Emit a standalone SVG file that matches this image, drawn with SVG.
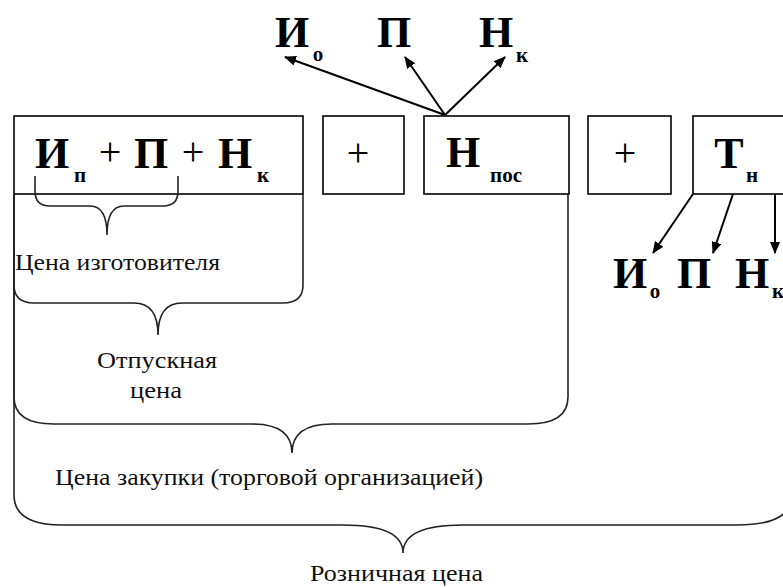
<svg xmlns="http://www.w3.org/2000/svg" width="783" height="588" viewBox="0 0 783 588">
<defs>
<marker id="ah" viewBox="0 0 12 10" refX="11" refY="5" markerWidth="12" markerHeight="10" markerUnits="userSpaceOnUse" orient="auto">
<path d="M0,0 L12,5 L0,10 Z" fill="#000"/>
</marker>
</defs>
<rect width="783" height="588" fill="#fff"/>

<g id="box-producer">
<rect x="14" y="116" width="289" height="78" fill="#fff" stroke="#000" stroke-width="1.6"/>
<text x="52" y="168" font-family="Liberation Serif" font-size="44" font-weight="bold" text-anchor="middle">И</text>
<text x="80" y="182" font-family="Liberation Serif" font-size="21" font-weight="bold" text-anchor="middle">п</text>
<text x="110" y="165" font-family="Liberation Serif" font-size="40" text-anchor="middle">+</text>
<text x="151" y="168" font-family="Liberation Serif" font-size="44" font-weight="bold" text-anchor="middle">П</text>
<text x="193" y="165" font-family="Liberation Serif" font-size="40" text-anchor="middle">+</text>
<text x="235" y="168" font-family="Liberation Serif" font-size="44" font-weight="bold" text-anchor="middle">Н</text>
<text x="263" y="182" font-family="Liberation Serif" font-size="21" font-weight="bold" text-anchor="middle">к</text>
</g>
<g id="plus-1">
<rect x="323" y="116" width="81" height="78" fill="#fff" stroke="#000" stroke-width="1.6"/>
<text x="358" y="166" font-family="Liberation Serif" font-size="40" text-anchor="middle">+</text>
</g>
<g id="box-npos">
<rect x="424" y="116" width="145" height="78" fill="#fff" stroke="#000" stroke-width="1.6"/>
<text x="463" y="167" font-family="Liberation Serif" font-size="44" font-weight="bold" text-anchor="middle">Н</text>
<text x="506" y="182" font-family="Liberation Serif" font-size="21" font-weight="bold" text-anchor="middle">пос</text>
</g>
<g id="plus-2">
<rect x="588" y="116" width="83" height="78" fill="#fff" stroke="#000" stroke-width="1.6"/>
<text x="625" y="166" font-family="Liberation Serif" font-size="40" text-anchor="middle">+</text>
</g>
<g id="box-tn">
<rect x="693" y="116" width="100" height="78" fill="#fff" stroke="#000" stroke-width="1.6"/>
<text x="729" y="168" font-family="Liberation Serif" font-size="44" font-weight="bold" text-anchor="middle">Т</text>
<text x="752" y="182" font-family="Liberation Serif" font-size="21" font-weight="bold" text-anchor="middle">н</text>
</g>

<g id="top-labels">
<text x="292" y="47" font-family="Liberation Serif" font-size="44" font-weight="bold" text-anchor="middle">И</text>
<text x="318" y="61" font-family="Liberation Serif" font-size="21" font-weight="bold" text-anchor="middle">о</text>
<text x="394" y="47" font-family="Liberation Serif" font-size="44" font-weight="bold" text-anchor="middle">П</text>
<text x="496" y="47" font-family="Liberation Serif" font-size="44" font-weight="bold" text-anchor="middle">Н</text>
<text x="522" y="62" font-family="Liberation Serif" font-size="21" font-weight="bold" text-anchor="middle">к</text>
</g>
<g id="bottom-labels">
<text x="630" y="288" font-family="Liberation Serif" font-size="44" font-weight="bold" text-anchor="middle">И</text>
<text x="655" y="298" font-family="Liberation Serif" font-size="21" font-weight="bold" text-anchor="middle">о</text>
<text x="694" y="288" font-family="Liberation Serif" font-size="44" font-weight="bold" text-anchor="middle">П</text>
<text x="752" y="288" font-family="Liberation Serif" font-size="44" font-weight="bold" text-anchor="middle">Н</text>
<text x="778" y="298" font-family="Liberation Serif" font-size="21" font-weight="bold" text-anchor="middle">к</text>
</g>

<g id="connectors" stroke="#000" stroke-width="2" fill="none">
<line x1="445" y1="115" x2="285" y2="57" marker-end="url(#ah)"/>
<line x1="445" y1="115" x2="405" y2="57" marker-end="url(#ah)"/>
<line x1="445" y1="115" x2="505" y2="57" marker-end="url(#ah)"/>
<line x1="693" y1="194" x2="653" y2="253" marker-end="url(#ah)"/>
<line x1="733" y1="194" x2="713" y2="253" marker-end="url(#ah)"/>
<line x1="775" y1="194" x2="775" y2="253" marker-end="url(#ah)"/>
</g>

<g id="brace-producer">
<path d="M35,176 L35,191 Q35,206 50,206 L90,206 Q107,206 107,235 Q107,206 124,206 L163,206 Q178,206 178,191 L178,176" fill="none" stroke="#222" stroke-width="1.6"/>
<text x="15" y="270" font-family="Liberation Serif" font-size="23" fill="#111" textLength="205" lengthAdjust="spacingAndGlyphs">Цена изготовителя</text>
</g>
<g id="brace-release">
<path d="M14,194 L14,285 Q14,303 34,303 L134,303 Q158,303 158,335 Q158,303 182,303 L283,303 Q303,303 303,285 L303,194" fill="none" stroke="#222" stroke-width="1.6"/>
<text x="97" y="368" font-family="Liberation Serif" font-size="23" fill="#111" textLength="120" lengthAdjust="spacingAndGlyphs">Отпускная</text>
<text x="130" y="398" font-family="Liberation Serif" font-size="23" fill="#111" textLength="52" lengthAdjust="spacingAndGlyphs">цена</text>
</g>
<g id="brace-purchase">
<path d="M14,194 L14,397 Q14,424 54,424 L252,424 Q292,424 292,453 Q292,424 332,424 L528,424 Q568,424 568,397 L568,194" fill="none" stroke="#222" stroke-width="1.6"/>
<text x="55" y="485" font-family="Liberation Serif" font-size="23" fill="#111" textLength="428" lengthAdjust="spacingAndGlyphs">Цена закупки (торговой организацией)</text>
</g>
<g id="brace-retail">
<path d="M14,194 L14,495 Q14,525 62,525 L343,525 Q403,525 403,553 Q403,525 463,525 L737,525 Q792,525 792,495 L792,194" fill="none" stroke="#222" stroke-width="1.6"/>
<text x="310" y="581" font-family="Liberation Serif" font-size="23" fill="#111" textLength="173" lengthAdjust="spacingAndGlyphs">Розничная цена</text>
</g>
</svg>
